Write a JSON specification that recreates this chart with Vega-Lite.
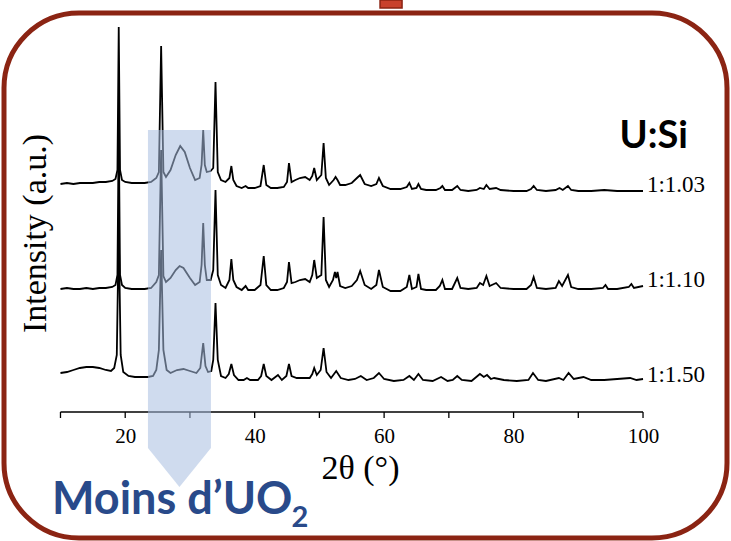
{
"$schema": "https://vega.github.io/schema/vega-lite/v6.json",
"width": 723, "height": 525,
"autosize": {"type": "none"},
"padding": {"left": 4, "top": 13, "right": 4, "bottom": 3},
"background": "white",
"config": {"view": {"stroke": "#8B2413", "strokeWidth": 5, "cornerRadius": 75, "fill": "white"}, "font": "Liberation Serif",
 "axisX": {"offset": -126, "domain": false, "ticks": false, "grid": false, "labelFont": "Liberation Serif", "labelFontSize": 21, "labelColor": "black", "labelPadding": 13, "labelFlush": false, "titleFont": "Liberation Serif", "titleFontSize": 34, "titleFontWeight": "normal", "titleColor": "black", "titleX": 356, "titleY": 56, "titleBaseline": "middle"},
 "axisY": {"domain": false, "ticks": false, "labels": false, "grid": false, "titleFont": "Liberation Serif", "titleFontSize": 34, "titleFontWeight": "normal", "titleColor": "black", "titleX": 31, "titleY": 220, "titleBaseline": "middle"}
},
"datasets": {
"s103": [
{"theta":10,"intensity":228},{"theta":11,"intensity":229},{"theta":12,"intensity":228},{"theta":13,"intensity":229},{"theta":14,"intensity":229},{"theta":15,"intensity":229},{"theta":16,"intensity":230},{"theta":17,"intensity":230},{"theta":18,"intensity":231},{"theta":18.5,"intensity":233},{"theta":18.8,"intensity":242},{"theta":19,"intensity":385},{"theta":19.2,"intensity":242},{"theta":19.5,"intensity":232},{"theta":20,"intensity":230},{"theta":21,"intensity":229},{"theta":22,"intensity":229},{"theta":23,"intensity":229},{"theta":24,"intensity":230},{"theta":24.8,"intensity":234},{"theta":25.2,"intensity":240},{"theta":25.55,"intensity":366},{"theta":25.9,"intensity":240},{"theta":26.3,"intensity":235},{"theta":27,"intensity":242},{"theta":27.8,"intensity":257},{"theta":28.5,"intensity":266},{"theta":29.2,"intensity":260},{"theta":30,"intensity":244},{"theta":30.8,"intensity":232},{"theta":31.5,"intensity":234},{"theta":31.8,"intensity":247},{"theta":32.05,"intensity":282},{"theta":32.3,"intensity":247},{"theta":32.6,"intensity":240},{"theta":33.2,"intensity":241},{"theta":33.6,"intensity":244},{"theta":33.95,"intensity":330},{"theta":34.3,"intensity":240},{"theta":34.8,"intensity":232},{"theta":35.5,"intensity":230},{"theta":36.1,"intensity":234},{"theta":36.4,"intensity":246},{"theta":36.7,"intensity":232},{"theta":37.2,"intensity":226},{"theta":38,"intensity":224},{"theta":38.6,"intensity":226},{"theta":39,"intensity":224},{"theta":40,"intensity":224},{"theta":40.9,"intensity":226},{"theta":41.4,"intensity":247},{"theta":41.8,"intensity":227},{"theta":42.5,"intensity":224},{"theta":43.5,"intensity":224},{"theta":44.5,"intensity":225},{"theta":45,"intensity":230},{"theta":45.3,"intensity":249},{"theta":45.7,"intensity":230},{"theta":46.3,"intensity":232},{"theta":47,"intensity":234},{"theta":47.8,"intensity":235},{"theta":48.5,"intensity":232},{"theta":48.9,"intensity":236},{"theta":49.2,"intensity":244},{"theta":49.6,"intensity":232},{"theta":50.3,"intensity":237},{"theta":50.65,"intensity":269},{"theta":51,"intensity":234},{"theta":51.5,"intensity":227},{"theta":52.2,"intensity":232},{"theta":52.5,"intensity":235},{"theta":52.8,"intensity":232},{"theta":53.2,"intensity":227},{"theta":54,"intensity":227},{"theta":55,"intensity":229},{"theta":55.8,"intensity":234},{"theta":56.3,"intensity":237},{"theta":57,"intensity":228},{"theta":58,"intensity":226},{"theta":58.8,"intensity":228},{"theta":59.2,"intensity":234},{"theta":59.8,"intensity":226},{"theta":61,"intensity":223},{"theta":62.5,"intensity":223},{"theta":63.5,"intensity":225},{"theta":63.9,"intensity":229},{"theta":64.3,"intensity":223},{"theta":65,"intensity":224},{"theta":65.3,"intensity":228},{"theta":65.7,"intensity":223},{"theta":66.5,"intensity":222},{"theta":68,"intensity":222},{"theta":68.7,"intensity":224},{"theta":69,"intensity":226},{"theta":69.4,"intensity":222},{"theta":70.5,"intensity":222},{"theta":71.3,"intensity":226},{"theta":71.8,"intensity":222},{"theta":73,"intensity":221},{"theta":74.3,"intensity":222},{"theta":74.8,"intensity":224},{"theta":75.4,"intensity":223},{"theta":75.8,"intensity":227},{"theta":76.3,"intensity":223},{"theta":77.3,"intensity":224},{"theta":78,"intensity":222},{"theta":80,"intensity":221},{"theta":82,"intensity":221},{"theta":82.7,"intensity":223},{"theta":83.1,"intensity":226},{"theta":83.6,"intensity":222},{"theta":85,"intensity":221},{"theta":86.5,"intensity":222},{"theta":87.1,"intensity":224},{"theta":87.6,"intensity":222},{"theta":88.4,"intensity":226},{"theta":88.9,"intensity":222},{"theta":90,"intensity":221},{"theta":92,"intensity":221},{"theta":94,"intensity":222},{"theta":96,"intensity":221},{"theta":98,"intensity":221},{"theta":100,"intensity":221}
],
"s110": [
{"theta":10,"intensity":123},{"theta":11,"intensity":124},{"theta":12,"intensity":123},{"theta":13,"intensity":123},{"theta":14,"intensity":124},{"theta":15,"intensity":123},{"theta":16,"intensity":124},{"theta":17,"intensity":124},{"theta":18,"intensity":125},{"theta":18.5,"intensity":127},{"theta":18.8,"intensity":137},{"theta":19,"intensity":287},{"theta":19.2,"intensity":137},{"theta":19.5,"intensity":127},{"theta":20,"intensity":124},{"theta":21,"intensity":123},{"theta":22,"intensity":123},{"theta":23,"intensity":123},{"theta":24,"intensity":124},{"theta":24.8,"intensity":130},{"theta":25.2,"intensity":137},{"theta":25.55,"intensity":262},{"theta":25.9,"intensity":136},{"theta":26.3,"intensity":130},{"theta":27,"intensity":134},{"theta":27.8,"intensity":142},{"theta":28.4,"intensity":146},{"theta":29,"intensity":144},{"theta":30,"intensity":134},{"theta":30.8,"intensity":127},{"theta":31.5,"intensity":130},{"theta":31.8,"intensity":147},{"theta":32.05,"intensity":189},{"theta":32.3,"intensity":147},{"theta":32.6,"intensity":132},{"theta":33.2,"intensity":132},{"theta":33.6,"intensity":142},{"theta":33.95,"intensity":222},{"theta":34.3,"intensity":137},{"theta":34.8,"intensity":127},{"theta":35.5,"intensity":124},{"theta":36.1,"intensity":132},{"theta":36.4,"intensity":153},{"theta":36.7,"intensity":132},{"theta":37.2,"intensity":125},{"theta":38,"intensity":122},{"theta":38.6,"intensity":126},{"theta":39,"intensity":122},{"theta":40,"intensity":122},{"theta":40.9,"intensity":127},{"theta":41.4,"intensity":156},{"theta":41.8,"intensity":127},{"theta":42.5,"intensity":122},{"theta":43.5,"intensity":122},{"theta":44.5,"intensity":124},{"theta":45,"intensity":130},{"theta":45.3,"intensity":150},{"theta":45.7,"intensity":129},{"theta":46.3,"intensity":130},{"theta":47,"intensity":132},{"theta":47.8,"intensity":133},{"theta":48.5,"intensity":130},{"theta":48.9,"intensity":137},{"theta":49.2,"intensity":152},{"theta":49.6,"intensity":134},{"theta":50.3,"intensity":137},{"theta":50.65,"intensity":195},{"theta":51,"intensity":132},{"theta":51.5,"intensity":125},{"theta":52.1,"intensity":132},{"theta":52.4,"intensity":140},{"theta":52.6,"intensity":134},{"theta":52.8,"intensity":140},{"theta":53.2,"intensity":126},{"theta":54,"intensity":124},{"theta":55,"intensity":126},{"theta":55.8,"intensity":132},{"theta":56.3,"intensity":141},{"theta":57,"intensity":127},{"theta":58,"intensity":123},{"theta":58.8,"intensity":127},{"theta":59.2,"intensity":142},{"theta":59.8,"intensity":125},{"theta":61,"intensity":121},{"theta":62.5,"intensity":121},{"theta":63.5,"intensity":125},{"theta":63.9,"intensity":137},{"theta":64.3,"intensity":123},{"theta":65,"intensity":125},{"theta":65.3,"intensity":138},{"theta":65.7,"intensity":123},{"theta":66.5,"intensity":122},{"theta":68,"intensity":122},{"theta":68.6,"intensity":126},{"theta":69,"intensity":132},{"theta":69.4,"intensity":123},{"theta":70.5,"intensity":123},{"theta":71.3,"intensity":134},{"theta":71.8,"intensity":124},{"theta":73,"intensity":123},{"theta":74.3,"intensity":124},{"theta":74.8,"intensity":129},{"theta":75.3,"intensity":127},{"theta":75.8,"intensity":136},{"theta":76.3,"intensity":126},{"theta":77.3,"intensity":129},{"theta":78,"intensity":124},{"theta":80,"intensity":123},{"theta":82,"intensity":123},{"theta":82.7,"intensity":127},{"theta":83.1,"intensity":135},{"theta":83.6,"intensity":124},{"theta":85,"intensity":123},{"theta":86.5,"intensity":124},{"theta":87,"intensity":131},{"theta":87.5,"intensity":126},{"theta":88.4,"intensity":137},{"theta":88.9,"intensity":125},{"theta":90,"intensity":123},{"theta":92,"intensity":123},{"theta":93.8,"intensity":124},{"theta":94.2,"intensity":127},{"theta":94.6,"intensity":123},{"theta":96,"intensity":123},{"theta":97.8,"intensity":125},{"theta":98.2,"intensity":128},{"theta":98.6,"intensity":124},{"theta":100,"intensity":126}
],
"s150": [
{"theta":10,"intensity":39},{"theta":11,"intensity":40},{"theta":12,"intensity":42},{"theta":13,"intensity":44},{"theta":14,"intensity":45},{"theta":15,"intensity":45},{"theta":16,"intensity":44},{"theta":17,"intensity":42},{"theta":17.8,"intensity":41},{"theta":18.3,"intensity":44},{"theta":18.7,"intensity":57},{"theta":19,"intensity":182},{"theta":19.3,"intensity":57},{"theta":19.7,"intensity":40},{"theta":20.5,"intensity":36},{"theta":21.5,"intensity":35},{"theta":22.5,"intensity":35},{"theta":23.5,"intensity":35},{"theta":24.3,"intensity":36},{"theta":24.8,"intensity":42},{"theta":25.2,"intensity":62},{"theta":25.55,"intensity":162},{"theta":25.9,"intensity":62},{"theta":26.4,"intensity":42},{"theta":27,"intensity":39},{"theta":28,"intensity":42},{"theta":29,"intensity":43},{"theta":30,"intensity":41},{"theta":31,"intensity":39},{"theta":31.6,"intensity":44},{"theta":32.05,"intensity":69},{"theta":32.4,"intensity":46},{"theta":32.8,"intensity":40},{"theta":33.3,"intensity":41},{"theta":33.6,"intensity":52},{"theta":33.95,"intensity":109},{"theta":34.3,"intensity":52},{"theta":34.8,"intensity":36},{"theta":35.5,"intensity":34},{"theta":36,"intensity":38},{"theta":36.4,"intensity":48},{"theta":36.8,"intensity":37},{"theta":37.5,"intensity":32},{"theta":38.3,"intensity":32},{"theta":38.8,"intensity":34},{"theta":39.3,"intensity":32},{"theta":40.5,"intensity":32},{"theta":41,"intensity":36},{"theta":41.4,"intensity":48},{"theta":41.8,"intensity":36},{"theta":42.6,"intensity":32},{"theta":43.6,"intensity":37},{"theta":44.2,"intensity":32},{"theta":44.9,"intensity":36},{"theta":45.3,"intensity":48},{"theta":45.7,"intensity":36},{"theta":46.5,"intensity":34},{"theta":47.5,"intensity":34},{"theta":48.5,"intensity":34},{"theta":48.9,"intensity":38},{"theta":49.2,"intensity":44},{"theta":49.6,"intensity":37},{"theta":50.2,"intensity":42},{"theta":50.65,"intensity":64},{"theta":51.1,"intensity":40},{"theta":51.8,"intensity":34},{"theta":52.6,"intensity":41},{"theta":53.3,"intensity":34},{"theta":54.5,"intensity":32},{"theta":55.5,"intensity":33},{"theta":56.4,"intensity":36},{"theta":57.3,"intensity":32},{"theta":58.4,"intensity":34},{"theta":59.2,"intensity":39},{"theta":60,"intensity":33},{"theta":61.5,"intensity":31},{"theta":63,"intensity":32},{"theta":63.9,"intensity":36},{"theta":64.6,"intensity":32},{"theta":65.3,"intensity":38},{"theta":66,"intensity":32},{"theta":67.5,"intensity":31},{"theta":68.8,"intensity":35},{"theta":69.8,"intensity":31},{"theta":70.6,"intensity":32},{"theta":71.3,"intensity":36},{"theta":72,"intensity":32},{"theta":73.5,"intensity":31},{"theta":74.8,"intensity":38},{"theta":75.4,"intensity":35},{"theta":75.9,"intensity":37},{"theta":76.5,"intensity":33},{"theta":77,"intensity":34},{"theta":78.5,"intensity":32},{"theta":80.5,"intensity":31},{"theta":82.3,"intensity":32},{"theta":83,"intensity":39},{"theta":83.8,"intensity":32},{"theta":85,"intensity":31},{"theta":87,"intensity":34},{"theta":87.7,"intensity":32},{"theta":88.5,"intensity":39},{"theta":89.3,"intensity":33},{"theta":90.8,"intensity":35},{"theta":92,"intensity":32},{"theta":94,"intensity":32},{"theta":96,"intensity":33},{"theta":98,"intensity":34},{"theta":99,"intensity":32},{"theta":100,"intensity":33}
],
"labels": [
{"label":"1:1.03","theta":100.6,"intensity":227},
{"label":"1:1.10","theta":100.6,"intensity":132},
{"label":"1:1.50","theta":100.6,"intensity":37}
],
"ticks": [{"theta":10},{"theta":20},{"theta":30},{"theta":40},{"theta":50},{"theta":60},{"theta":70},{"theta":80},{"theta":90},{"theta":100}]
},
"layer": [
{"data": {"name": "s103"}, "mark": {"type": "line", "color": "black", "strokeWidth": 1.8},
 "encoding": {
  "x": {"field": "theta", "type": "quantitative", "title": "2θ (°)", "scale": {"domain": [1.274, 112.973], "nice": false, "zero": false}, "axis": {"values": [20, 40, 60, 80, 100]}},
  "y": {"field": "intensity", "type": "quantitative", "title": "Intensity (a.u.)", "scale": {"domain": [-126, 399], "nice": false, "zero": false}, "axis": {"values": []}}
 }},
{"data": {"name": "s110"}, "mark": {"type": "line", "color": "black", "strokeWidth": 1.8},
 "encoding": {
  "x": {"field": "theta", "type": "quantitative", "title": "2θ (°)", "scale": {"domain": [1.274, 112.973], "nice": false, "zero": false}, "axis": {"values": [20, 40, 60, 80, 100]}},
  "y": {"field": "intensity", "type": "quantitative", "title": "Intensity (a.u.)", "scale": {"domain": [-126, 399], "nice": false, "zero": false}, "axis": {"values": []}}
 }},
{"data": {"name": "s150"}, "mark": {"type": "line", "color": "black", "strokeWidth": 1.8},
 "encoding": {
  "x": {"field": "theta", "type": "quantitative", "title": "2θ (°)", "scale": {"domain": [1.274, 112.973], "nice": false, "zero": false}, "axis": {"values": [20, 40, 60, 80, 100]}},
  "y": {"field": "intensity", "type": "quantitative", "title": "Intensity (a.u.)", "scale": {"domain": [-126, 399], "nice": false, "zero": false}, "axis": {"values": []}}
 }},
{"data": {"name": "ticks"}, "mark": {"type": "rule", "color": "black", "strokeWidth": 1.3},
 "encoding": {
  "x": {"field": "theta", "type": "quantitative", "title": "2θ (°)", "scale": {"domain": [1.274, 112.973], "nice": false, "zero": false}, "axis": {"values": [20, 40, 60, 80, 100]}},
  "y": {"datum": 0, "type": "quantitative", "title": "Intensity (a.u.)", "scale": {"domain": [-126, 399], "nice": false, "zero": false}, "axis": {"values": []}},
  "y2": {"datum": -6}
 }},
{"data": {"values": [{}]}, "mark": {"type": "rule", "color": "black", "strokeWidth": 1.3},
 "encoding": {
  "x": {"datum": 10, "type": "quantitative", "title": "2θ (°)", "scale": {"domain": [1.274, 112.973], "nice": false, "zero": false}, "axis": {"values": [20, 40, 60, 80, 100]}},
  "x2": {"datum": 100},
  "y": {"datum": 0, "type": "quantitative", "title": "Intensity (a.u.)", "scale": {"domain": [-126, 399], "nice": false, "zero": false}, "axis": {"values": []}}
 }},
{"data": {"values": [{}]}, "mark": {"type": "point", "shape": "M-1,-10.095L1,-10.095L1,0L0,1.238L-1,0Z", "size": 3969, "filled": true, "fill": "#a8bde0", "opacity": 0.55, "strokeWidth": 0},
 "encoding": {
  "x": {"datum": 28.38, "type": "quantitative", "title": "2θ (°)", "scale": {"domain": [1.274, 112.973], "nice": false, "zero": false}, "axis": {"values": [20, 40, 60, 80, 100]}},
  "y": {"datum": -36, "type": "quantitative", "title": "Intensity (a.u.)", "scale": {"domain": [-126, 399], "nice": false, "zero": false}, "axis": {"values": []}}
 }},
{"data": {"name": "labels"}, "mark": {"type": "text", "align": "left", "baseline": "middle", "font": "Liberation Serif", "fontSize": 23, "color": "black"},
 "encoding": {
  "x": {"field": "theta", "type": "quantitative", "title": "2θ (°)", "scale": {"domain": [1.274, 112.973], "nice": false, "zero": false}, "axis": {"values": [20, 40, 60, 80, 100]}},
  "y": {"field": "intensity", "type": "quantitative", "title": "Intensity (a.u.)", "scale": {"domain": [-126, 399], "nice": false, "zero": false}, "axis": {"values": []}},
  "text": {"field": "label"}
 }},
{"data": {"values": [{}]}, "mark": {"type": "text", "align": "center", "baseline": "middle", "font": "Lato", "fontWeight": "bold", "fontSize": 38, "color": "black"},
 "encoding": {
  "x": {"datum": 101.66, "type": "quantitative", "title": "2θ (°)", "scale": {"domain": [1.274, 112.973], "nice": false, "zero": false}, "axis": {"values": [20, 40, 60, 80, 100]}},
  "y": {"datum": 275, "type": "quantitative", "title": "Intensity (a.u.)", "scale": {"domain": [-126, 399], "nice": false, "zero": false}, "axis": {"values": []}},
  "text": {"value": "U:Si"}
 }},
{"data": {"values": [{}]}, "mark": {"type": "text", "align": "left", "baseline": "middle", "font": "Lato", "fontWeight": "bold", "fontSize": 45, "color": "#294a8a"},
 "encoding": {
  "x": {"datum": 8.69, "type": "quantitative", "title": "2θ (°)", "scale": {"domain": [1.274, 112.973], "nice": false, "zero": false}, "axis": {"values": [20, 40, 60, 80, 100]}},
  "y": {"datum": -88, "type": "quantitative", "title": "Intensity (a.u.)", "scale": {"domain": [-126, 399], "nice": false, "zero": false}, "axis": {"values": []}},
  "text": {"value": "Moins d’UO"}
 }},
{"data": {"values": [{}]}, "mark": {"type": "text", "align": "left", "baseline": "middle", "font": "Lato", "fontWeight": "bold", "fontSize": 29, "color": "#294a8a"},
 "encoding": {
  "x": {"datum": 45.7, "type": "quantitative", "title": "2θ (°)", "scale": {"domain": [1.274, 112.973], "nice": false, "zero": false}, "axis": {"values": [20, 40, 60, 80, 100]}},
  "y": {"datum": -106, "type": "quantitative", "title": "Intensity (a.u.)", "scale": {"domain": [-126, 399], "nice": false, "zero": false}, "axis": {"values": []}},
  "text": {"value": "2"}
 }},
{"data": {"values": [{}]}, "mark": {"type": "rect", "fill": "#c8412c", "stroke": "#8B2413", "strokeWidth": 1.5},
 "encoding": {
  "x": {"datum": 59.37, "type": "quantitative", "title": "2θ (°)", "scale": {"domain": [1.274, 112.973], "nice": false, "zero": false}, "axis": {"values": [20, 40, 60, 80, 100]}},
  "x2": {"datum": 62.77},
  "y": {"datum": 412, "type": "quantitative", "title": "Intensity (a.u.)", "scale": {"domain": [-126, 399], "nice": false, "zero": false}, "axis": {"values": []}},
  "y2": {"datum": 404}
 }}
]
}
